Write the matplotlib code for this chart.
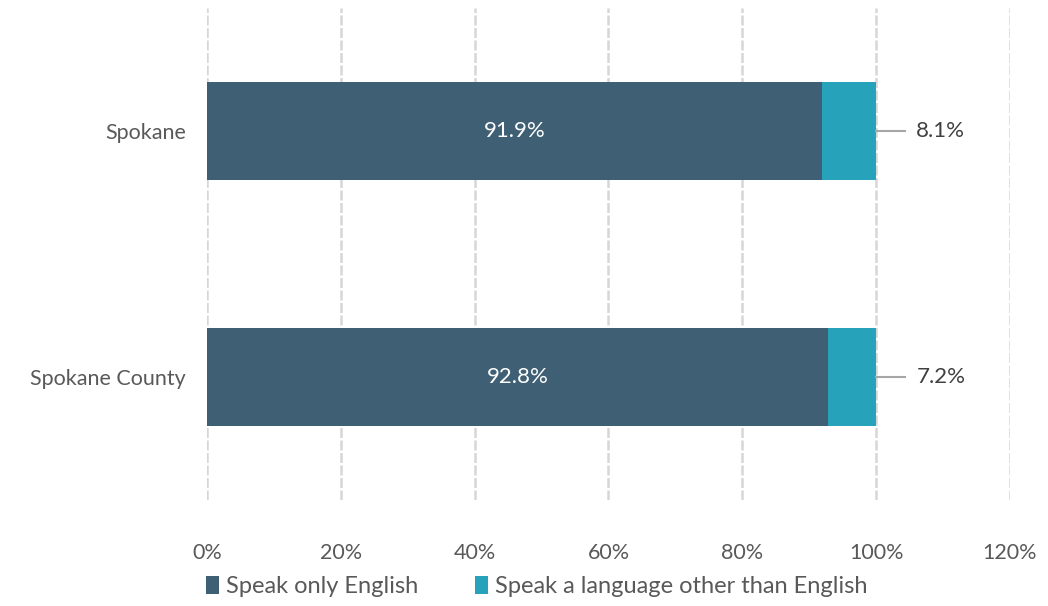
import matplotlib
matplotlib.use("Agg")
import matplotlib.pyplot as plt
import numpy as np

# data
categories = ["Spokane", "Spokane County"]
only_english = [91.9, 92.8]
other_language = [8.1, 7.2]
series_names = ["Speak only English", "Speak a language other than English"]
x_ticks = [0, 20, 40, 60, 80, 100, 120]

dark = "#3F5F75"
teal = "#26A3BB"
text_col = "#595959"

plt.rcParams['font.family'] = ['Lato', 'DejaVu Sans']

fig = plt.figure(figsize=(10.48, 6.06), dpi=100)
ax = fig.add_axes([0.1975, 0.175, 0.7662, 0.812])

y = np.arange(len(categories))
bar_h = 0.4
ax.barh(y, only_english, height=bar_h, color=dark, label=series_names[0], zorder=3)
ax.barh(y, other_language, left=only_english, height=bar_h, color=teal,
        label=series_names[1], zorder=3)

for i in range(len(categories)):
    ax.text(only_english[i] / 2, y[i], f"{only_english[i]}%", color="white",
            ha="center", va="center", fontsize=16, zorder=4)
    end = only_english[i] + other_language[i]
    ax.plot([end, end + 4.3], [y[i], y[i]], color="#A6A6A6", lw=1.5, zorder=4)
    ax.text(end + 6.0, y[i], f"{other_language[i]}%", color="#404040",
            ha="left", va="center", fontsize=16, zorder=4)

ax.set_xlim(0, 120)
ax.set_ylim(1.5, -0.5)
ax.set_yticks(y)
ax.set_yticklabels(categories, fontsize=15.5, color=text_col)
ax.set_xticks(x_ticks)
ax.set_xticklabels([f"{t}%" for t in x_ticks], fontsize=15.5, color=text_col)
ax.tick_params(axis="both", length=0)
ax.tick_params(axis="x", pad=31)
ax.tick_params(axis="y", pad=15)
ax.grid(axis="x", color="#D6D6D6", lw=1.8, linestyle=(0, (4, 1)), zorder=0)
for s in ax.spines.values():
    s.set_visible(False)

handles, labels = ax.get_legend_handles_labels()
fig.legend(handles, labels, loc="center", bbox_to_anchor=(0.512, 0.032), ncol=2,
           frameon=False, fontsize=17, handlelength=0.55, handleheight=0.75,
           handletextpad=0.3, columnspacing=2.4, labelcolor=text_col)

fig.savefig("out.png", dpi=100)
